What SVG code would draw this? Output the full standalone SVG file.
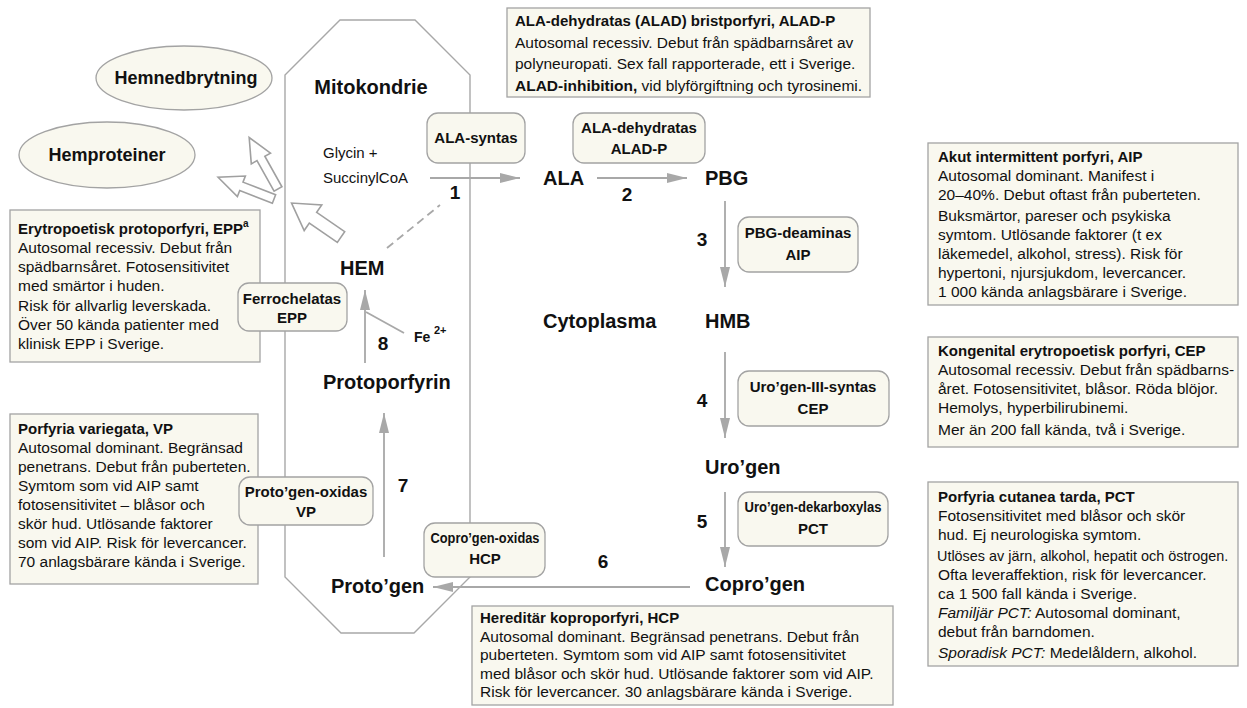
<svg xmlns="http://www.w3.org/2000/svg" width="1247" height="708" viewBox="0 0 1247 708">
<defs>
<style>
.box{fill:#f9f8ef;stroke:#a3a3a3;stroke-width:1.3}
.enz{fill:#f9f8ef;stroke:#a3a3a3;stroke-width:1.3}
.oct{fill:none;stroke:#a8a8a8;stroke-width:1.4}
.conn{stroke:#a8a8a8;stroke-width:1.8;fill:none}
.hol{fill:#fff;stroke:#a0a0a0;stroke-width:1.6}
text{font-family:"Liberation Sans",Arial,sans-serif;fill:#111}
.b{font-size:15.5px}
.ti{font-size:15px;font-weight:bold}
.lab{font-size:15px;font-weight:bold;text-anchor:middle}
.big{font-size:20px;font-weight:bold}
.ell{font-size:18px;font-weight:bold;text-anchor:middle}
.num{font-size:19px;font-weight:bold;text-anchor:middle}
</style>
<marker id="ah" viewBox="0 0 20 10" refX="20" refY="5" markerWidth="20" markerHeight="10" markerUnits="userSpaceOnUse" orient="auto"><path d="M0,0 L20,5 L0,10 Z" fill="#a8a8a8"/></marker>
</defs>
<rect width="1247" height="708" fill="#fff"/>

<g id="mitokondrie">
<path class="oct" d="M285,75 L340,20 L415,20 L470,75 L470,577 L414,633 L341,633 L285,577 Z"/>
<text class="big" x="371" y="94" text-anchor="middle">Mitokondrie</text>
</g>

<g id="hemnedbrytning">
<ellipse class="box" cx="184" cy="78" rx="88" ry="32"/>
<text class="ell" x="186" y="84">Hemnedbrytning</text>
</g>
<g id="hemproteiner">
<ellipse class="box" cx="107" cy="155" rx="88" ry="33"/>
<text class="ell" x="107" y="161">Hemproteiner</text>
</g>

<g id="connectors">
<line class="conn" x1="430" y1="178" x2="520" y2="178" marker-end="url(#ah)"/>
<line class="conn" x1="597" y1="178" x2="687" y2="178" marker-end="url(#ah)"/>
<line class="conn" x1="725" y1="201" x2="725" y2="287" marker-end="url(#ah)"/>
<line class="conn" x1="725" y1="352" x2="725" y2="438" marker-end="url(#ah)"/>
<line class="conn" x1="725" y1="492" x2="725" y2="567" marker-end="url(#ah)"/>
<line class="conn" x1="690" y1="587" x2="433" y2="587" marker-end="url(#ah)"/>
<line class="conn" x1="384" y1="557" x2="384" y2="413" marker-end="url(#ah)"/>
<line class="conn" x1="365" y1="363" x2="365" y2="290" marker-end="url(#ah)"/>
<line class="conn" x1="366" y1="312" x2="404" y2="333" stroke-width="1.3"/>
<line class="conn" x1="387" y1="248" x2="440" y2="205" stroke-dasharray="8,5" stroke-width="1.4"/>
<polygon class="hol" transform="translate(278,189) rotate(-119.25)" points="0,-4.5 35,-4.5 35,-11 59,0 35,11 35,4.5 0,4.5"/>
<polygon class="hol" transform="translate(274,199) rotate(-158.75)" points="0,-4.5 35,-4.5 35,-11 60,0 35,11 35,4.5 0,4.5"/>
<polygon class="hol" transform="translate(341,237) rotate(-145.5)" points="0,-6.5 34,-6.5 34,-15.5 60,0 34,15.5 34,6.5 0,6.5"/>
</g>

<g id="glycin">
<text x="323" y="158" font-size="15">Glycin +</text>
<text x="323" y="183" font-size="15">SuccinylCoA</text>
</g>

<g id="alad-p">
<rect class="box" x="507" y="8" width="363" height="89"/>
<text class="ti" x="515" y="26">ALA-dehydratas (ALAD) bristporfyri, ALAD-P</text>
<text class="b" x="515" y="47.5">Autosomal recessiv. Debut från spädbarnsåret av</text>
<text class="b" x="515" y="69">polyneuropati. Sex fall rapporterade, ett i Sverige.</text>
<text class="b" x="515" y="90.5"><tspan font-weight="bold">ALAD-inhibition,</tspan> vid blyförgiftning och tyrosinemi.</text>
</g>

<g id="aip">
<rect class="box" x="928" y="143" width="310" height="162"/>
<text class="ti" x="938" y="162">Akut intermittent porfyri, AIP</text>
<text class="b" x="938" y="181">Autosomal dominant. Manifest i</text>
<text class="b" x="938" y="200">20–40%. Debut oftast från puberteten.</text>
<text class="b" x="938" y="221">Buksmärtor, pareser och psykiska</text>
<text class="b" x="938" y="240">symtom. Utlösande faktorer (t ex</text>
<text class="b" x="938" y="259">läkemedel, alkohol, stress). Risk för</text>
<text class="b" x="938" y="278">hypertoni, njursjukdom, levercancer.</text>
<text class="b" x="938" y="297">1 000 kända anlagsbärare i Sverige.</text>
</g>

<g id="cep">
<rect class="box" x="928" y="337" width="310" height="110"/>
<text class="ti" x="938" y="356">Kongenital erytropoetisk porfyri, CEP</text>
<text class="b" x="938" y="375">Autosomal recessiv. Debut från spädbarns-</text>
<text class="b" x="938" y="394">året. Fotosensitivitet, blåsor. Röda blöjor.</text>
<text class="b" x="938" y="413">Hemolys, hyperbilirubinemi.</text>
<text class="b" x="938" y="435">Mer än 200 fall kända, två i Sverige.</text>
</g>

<g id="pct">
<rect class="box" x="928" y="482" width="310" height="184"/>
<text class="ti" x="938" y="502">Porfyria cutanea tarda, PCT</text>
<text class="b" x="938" y="521">Fotosensitivitet med blåsor och skör</text>
<text class="b" x="938" y="540">hud. Ej neurologiska symtom.</text>
<text x="937" y="561" font-size="14.4">Utlöses av järn, alkohol, hepatit och östrogen.</text>
<text class="b" x="938" y="580">Ofta leveraffektion, risk för levercancer.</text>
<text class="b" x="938" y="599">ca 1 500 fall kända i Sverige.</text>
<text class="b" x="938" y="618"><tspan font-style="italic">Familjär PCT:</tspan> Autosomal dominant,</text>
<text class="b" x="938" y="637">debut från barndomen.</text>
<text class="b" x="938" y="658"><tspan font-style="italic">Sporadisk PCT:</tspan> Medelåldern, alkohol.</text>
</g>

<g id="hcp">
<rect class="box" x="472" y="606" width="421" height="99"/>
<text class="ti" x="480" y="623">Hereditär koproporfyri, HCP</text>
<text class="b" x="480" y="641.5">Autosomal dominant. Begränsad penetrans. Debut från</text>
<text class="b" x="480" y="660">puberteten. Symtom som vid AIP samt fotosensitivitet</text>
<text class="b" x="480" y="678.5">med blåsor och skör hud. Utlösande faktorer som vid AIP.</text>
<text class="b" x="480" y="697">Risk för levercancer. 30 anlagsbärare kända i Sverige.</text>
</g>

<g id="epp">
<rect class="box" x="10" y="210" width="250" height="152"/>
<text class="ti" x="18" y="234">Erytropoetisk protoporfyri, EPP<tspan font-size="10" dy="-7">a</tspan></text>
<text class="b" x="18" y="253">Autosomal recessiv. Debut från</text>
<text class="b" x="18" y="272">spädbarnsåret. Fotosensitivitet</text>
<text class="b" x="18" y="291">med smärtor i huden.</text>
<text class="b" x="18" y="311">Risk för allvarlig leverskada.</text>
<text class="b" x="18" y="330">Över 50 kända patienter med</text>
<text class="b" x="18" y="349">klinisk EPP i Sverige.</text>
</g>

<g id="vp">
<rect class="box" x="10" y="414" width="248" height="170"/>
<text class="ti" x="18" y="434">Porfyria variegata, VP</text>
<text class="b" x="18" y="453">Autosomal dominant. Begränsad</text>
<text class="b" x="18" y="472">penetrans. Debut från puberteten.</text>
<text class="b" x="18" y="491">Symtom som vid AIP samt</text>
<text class="b" x="18" y="510">fotosensitivitet – blåsor och</text>
<text class="b" x="18" y="529">skör hud. Utlösande faktorer</text>
<text class="b" x="18" y="548">som vid AIP. Risk för levercancer.</text>
<text class="b" x="18" y="567">70 anlagsbärare kända i Sverige.</text>
</g>

<g id="ala-syntas">
<rect class="enz" x="427" y="113" width="98" height="50" rx="11"/>
<text class="lab" x="476" y="143">ALA-syntas</text>
</g>
<g id="ala-dehydratas">
<rect class="enz" x="573" y="113" width="132" height="50" rx="11"/>
<text class="lab" x="639" y="133">ALA-dehydratas</text>
<text class="lab" x="639" y="154">ALAD-P</text>
</g>
<g id="pbg-deaminas">
<rect class="enz" x="738" y="217" width="120" height="55" rx="11"/>
<text class="lab" x="798" y="238">PBG-deaminas</text>
<text class="lab" x="798" y="260">AIP</text>
</g>
<g id="urogen-iii-syntas">
<rect class="enz" x="738" y="371" width="151" height="55" rx="11"/>
<text class="lab" x="813" y="392">Uro’gen-III-syntas</text>
<text class="lab" x="813" y="414">CEP</text>
</g>
<g id="urogen-dekarboxylas">
<rect class="enz" x="738" y="492" width="150" height="54" rx="11"/>
<text class="lab" x="813" y="512" textLength="137" lengthAdjust="spacingAndGlyphs">Uro’gen-dekarboxylas</text>
<text class="lab" x="813" y="534">PCT</text>
</g>
<g id="coprogen-oxidas">
<rect class="enz" x="424" y="523" width="121" height="54" rx="11"/>
<text class="lab" x="485" y="543" textLength="109" lengthAdjust="spacingAndGlyphs">Copro’gen-oxidas</text>
<text class="lab" x="485" y="564">HCP</text>
</g>
<g id="protogen-oxidas">
<rect class="enz" x="239" y="477" width="134" height="48" rx="11"/>
<text class="lab" x="306" y="497">Proto’gen-oxidas</text>
<text class="lab" x="306" y="517">VP</text>
</g>
<g id="ferrochelatas">
<rect class="enz" x="238" y="283" width="109" height="48" rx="11"/>
<text class="lab" x="292" y="304">Ferrochelatas</text>
<text class="lab" x="292" y="323">EPP</text>
</g>

<g id="metabolites">
<text class="big" x="543" y="185">ALA</text>
<text class="big" x="705" y="185">PBG</text>
<text class="big" x="705" y="328">HMB</text>
<text class="big" x="543" y="328">Cytoplasma</text>
<text class="big" x="705" y="474">Uro’gen</text>
<text class="big" x="705" y="591">Copro’gen</text>
<text class="big" x="331" y="593">Proto’gen</text>
<text class="big" x="323" y="389">Protoporfyrin</text>
<text class="big" x="340" y="275">HEM</text>
<text x="414" y="342" font-size="14" font-weight="bold">Fe</text>
<text x="434" y="334" font-size="11" font-weight="bold">2+</text>
</g>

<g id="numbers">
<text class="num" x="455" y="199">1</text>
<text class="num" x="627" y="201">2</text>
<text class="num" x="702" y="246">3</text>
<text class="num" x="702" y="407">4</text>
<text class="num" x="702" y="528">5</text>
<text class="num" x="603" y="568">6</text>
<text class="num" x="403" y="492">7</text>
<text class="num" x="383" y="350">8</text>
</g>
</svg>
